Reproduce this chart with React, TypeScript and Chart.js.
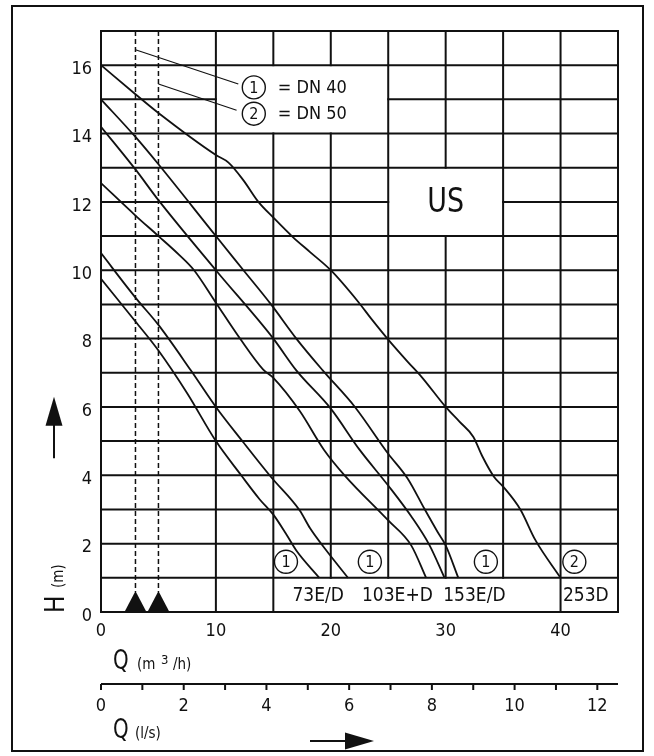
import React, { useEffect, useRef } from "react";
import { Chart, registerables } from "chart.js";

Chart.register(...registerables);

// ---------------- data ----------------
// Q in m3/h, H in m
const q253D = [0, 3, 5, 10, 11.1, 12.4, 13.7, 15, 16.7, 18.2, 20, 22.4, 23.5, 25, 26.7, 27.9, 30, 31.2, 32.4, 33.2, 34.2, 35, 36.5, 37.8, 40];
const h253D = [16, 15.15, 14.6, 13.37, 13.15, 12.63, 12.0, 11.54, 10.97, 10.53, 10, 9.07, 8.59, 7.97, 7.32, 6.88, 6.0, 5.57, 5.13, 4.55, 3.96, 3.67, 3.0, 2.11, 1.0];

const q153D = [0, 3, 5, 10, 12.4, 14.8, 17, 19.3, 22.1, 25, 26.7, 28.15, 29.3, 30, 31.1];
const h153D = [15, 13.9, 13.1, 11, 10, 9, 8, 7.07, 6.0, 4.63, 3.9, 3.02, 2.34, 1.95, 1.0];

const q153E = [0, 3, 5, 10, 15, 17, 20, 22.5, 25, 27, 28.6, 29.9];
const h153E = [14.2, 12.95, 12.05, 10, 8, 7.07, 5.95, 4.75, 3.7, 2.8, 1.95, 1.0];

const q103ED = [0, 3, 5, 6.8, 8.1, 10, 12.1, 14.1, 15, 17.3, 19.4, 21.2, 25, 27, 28.3];
const h103ED = [12.55, 11.6, 11.0, 10.45, 10.0, 9.05, 8.0, 7.1, 6.85, 5.88, 4.75, 4.0, 2.68, 1.95, 1.0];

const q73D = [0, 3, 5, 7.8, 10, 12.4, 14.8, 17.3, 18.2, 19.5, 21.5];
const h73D = [10.5, 9.2, 8.4, 7.08, 6.0, 4.96, 3.95, 2.97, 2.45, 1.85, 1.0];

const q73E = [0, 3, 5, 7.5, 10, 12.2, 13.8, 15, 16.1, 17, 19.0];
const h73E = [9.75, 8.5, 7.65, 6.4, 5.0, 4.0, 3.3, 2.85, 2.29, 1.8, 1.0];

const curveQ = [q253D, q153D, q153E, q103ED, q73D, q73E];
const curveH = [h253D, h153D, h153E, h103ED, h73D, h73E];

const hTicks = [0, 2, 4, 6, 8, 10, 12, 14, 16];
const qTicks = [0, 10, 20, 30, 40];
const lpsMinorTicks = [0, 1, 2, 3, 4, 5, 6, 7, 8, 9, 10, 11, 12];
const lpsLabels = [0, 2, 4, 6, 8, 10, 12];

const typeLabels = ["73E/D", "103E+D", "153E/D", "253D"];
const typeLabelQ = [18.9, 25.8, 32.5, 42.2];
const flangeMarks = ["1", "1", "1", "2"];
const flangeMarkQ = [16.1, 23.4, 33.5, 41.2];
const legendMarks = ["1", "2"];
const legendTexts = ["= DN 40", "= DN 50"];
const markerQ = [3, 5];

const FONT = '"DejaVu Sans Condensed", "Liberation Sans Narrow", "DejaVu Sans", sans-serif';
const INK = "#111111";

function txt(
  ctx: CanvasRenderingContext2D,
  s: string,
  x: number,
  y: number,
  size: number,
  align: CanvasTextAlign = "center",
  sx = 1,
  weight = "normal"
) {
  ctx.save();
  ctx.translate(x, y);
  ctx.scale(sx, 1);
  ctx.font = `${weight} ${size}px ${FONT}`;
  ctx.textAlign = align;
  ctx.textBaseline = "middle";
  ctx.fillStyle = INK;
  ctx.fillText(s, 0, 0);
  ctx.restore();
}

const drawingPlugin = {
  id: "pumpDrawing",
  beforeDraw(chart: any) {
    const ctx: CanvasRenderingContext2D = chart.ctx;
    ctx.save();
    ctx.fillStyle = "#ffffff";
    ctx.fillRect(0, 0, chart.width, chart.height);
    ctx.restore();
  },
  beforeDatasetsDraw(chart: any) {
    const ctx: CanvasRenderingContext2D = chart.ctx;
    const xs = chart.scales.x;
    const ys = chart.scales.y;
    const X = (v: number) => xs.getPixelForValue(v);
    const Y = (v: number) => ys.getPixelForValue(v);

    ctx.save();
    ctx.strokeStyle = INK;
    ctx.lineWidth = 2;
    ctx.lineCap = "butt";
    const seg = (x1: number, y1: number, x2: number, y2: number) => {
      ctx.beginPath();
      ctx.moveTo(x1, y1);
      ctx.lineTo(x2, y2);
      ctx.stroke();
    };
    const hSeg = (h: number, a: number, b: number) => seg(X(a) - 1, Y(h), X(b) + 1, Y(h));
    const vSeg = (q: number, a: number, b: number) => seg(X(q), Y(a) + 1, X(q), Y(b) - 1);

    // horizontal grid lines
    for (let h = 1; h <= 16; h++) {
      if (h === 15) {
        hSeg(h, 0, 10);
        hSeg(h, 25, 45);
      } else if (h === 12) {
        hSeg(h, 0, 25);
        hSeg(h, 35, 45);
      } else {
        hSeg(h, 0, 45);
      }
    }
    // vertical grid lines
    vSeg(10, 0, 17);
    vSeg(15, 0, 14);
    vSeg(15, 16, 17);
    vSeg(20, 1, 14);
    vSeg(20, 16, 17);
    vSeg(25, 1, 17);
    vSeg(30, 1, 11);
    vSeg(30, 13, 17);
    vSeg(35, 1, 17);
    vSeg(40, 0, 17);
    // frame of the diagram
    ctx.strokeRect(X(0), Y(17), X(45) - X(0), Y(0) - Y(17));

    // dashed marker lines with triangles
    ctx.lineWidth = 1.5;
    ctx.setLineDash([5, 3]);
    markerQ.forEach((q) => seg(X(q), Y(17), X(q), Y(0) - 20));
    ctx.setLineDash([]);
    ctx.fillStyle = INK;
    markerQ.forEach((q) => {
      ctx.beginPath();
      ctx.moveTo(X(q) - 11, Y(0));
      ctx.lineTo(X(q) + 11, Y(0));
      ctx.lineTo(X(q), Y(0) - 21);
      ctx.closePath();
      ctx.fill();
    });

    // leader lines for the legend
    ctx.lineWidth = 1.2;
    seg(X(3), Y(16.45), X(11.95), Y(15.45));
    seg(X(5), Y(15.45), X(11.8), Y(14.68));
    ctx.restore();
  },
  afterDatasetsDraw(chart: any) {
    const ctx: CanvasRenderingContext2D = chart.ctx;
    const xs = chart.scales.x;
    const ys = chart.scales.y;
    const X = (v: number) => xs.getPixelForValue(v);
    const Y = (v: number) => ys.getPixelForValue(v);

    const circ = (cx: number, cy: number, d: string) => {
      ctx.save();
      ctx.strokeStyle = INK;
      ctx.lineWidth = 1.4;
      ctx.beginPath();
      ctx.arc(cx, cy, 11.5, 0, Math.PI * 2);
      ctx.stroke();
      ctx.restore();
      txt(ctx, d, cx, cy + 1, 16);
    };

    // legend
    legendMarks.forEach((m, i) => {
      const cy = Y(15.35 - i * 0.77);
      circ(X(13.3), cy, m);
      txt(ctx, legendTexts[i], X(13.3) + 24, cy + 1, 18, "left");
    });

    // US label
    txt(ctx, "US", X(30), Y(12) + 1, 34, "center", 0.88);

    // flange marks and type labels
    flangeMarks.forEach((m, i) => circ(X(flangeMarkQ[i]), Y(1.47), m));
    typeLabels.forEach((s, i) => txt(ctx, s, X(typeLabelQ[i]), Y(0.5) + 1, 19, "center", 1.0));

    // H ticks
    hTicks.forEach((h) => txt(ctx, String(h), X(0) - 9, Y(h) + 4, 18, "right"));
    // Q ticks
    qTicks.forEach((q) => txt(ctx, String(q), X(q), Y(0) + 19, 18));

    // Q (m3/h) caption
    txt(ctx, "Q", X(0) + 12, Y(0) + 50, 26, "left", 0.85);
    txt(ctx, "(m", X(0) + 36, Y(0) + 53, 15, "left");
    txt(ctx, "3", X(0) + 60, Y(0) + 49, 13, "left");
    txt(ctx, "/h)", X(0) + 72, Y(0) + 53, 15, "left");

    // second axis in l/s
    const axY = Y(0) + 72;
    ctx.save();
    ctx.strokeStyle = INK;
    ctx.lineWidth = 2;
    ctx.beginPath();
    ctx.moveTo(X(0), axY);
    ctx.lineTo(X(45), axY);
    ctx.stroke();
    lpsMinorTicks.forEach((l) => {
      ctx.beginPath();
      ctx.moveTo(X(l * 3.6), axY);
      ctx.lineTo(X(l * 3.6), axY + 6);
      ctx.stroke();
    });
    ctx.restore();
    lpsLabels.forEach((l) => txt(ctx, String(l), X(l * 3.6), axY + 22, 18));
    txt(ctx, "Q", X(0) + 12, axY + 47, 26, "left", 0.85);
    txt(ctx, "(l/s)", X(0) + 34, axY + 50, 15, "left");

    // arrow to the right
    ctx.save();
    ctx.strokeStyle = INK;
    ctx.fillStyle = INK;
    ctx.lineWidth = 2;
    ctx.beginPath();
    ctx.moveTo(310, axY + 57);
    ctx.lineTo(348, axY + 57);
    ctx.stroke();
    ctx.beginPath();
    ctx.moveTo(345, axY + 48.5);
    ctx.lineTo(374, axY + 57);
    ctx.lineTo(345, axY + 65.5);
    ctx.closePath();
    ctx.fill();

    // arrow up, left of the H tick labels
    const ax = X(0) - 47;
    ctx.beginPath();
    ctx.moveTo(ax, Y(4.5));
    ctx.lineTo(ax, Y(5.5));
    ctx.stroke();
    ctx.beginPath();
    ctx.moveTo(ax - 8.5, Y(5.45));
    ctx.lineTo(ax, Y(6.3));
    ctx.lineTo(ax + 8.5, Y(5.45));
    ctx.closePath();
    ctx.fill();

    // H (m) caption, rotated
    ctx.translate(X(0) - 44, Y(0) + 1);
    ctx.rotate(-Math.PI / 2);
    ctx.font = `26px ${FONT}`;
    ctx.textAlign = "left";
    ctx.textBaseline = "middle";
    ctx.fillText("H", 0, 0);
    ctx.font = `15px ${FONT}`;
    ctx.fillText("(m)", 25, 2);
    ctx.restore();

    // outer frame
    ctx.save();
    ctx.strokeStyle = INK;
    ctx.lineWidth = 2;
    ctx.strokeRect(12, 6, 631, 745);
    ctx.restore();
  },
};

export default function App() {
  const ref = useRef<HTMLCanvasElement | null>(null);

  useEffect(() => {
    if (!ref.current) return;
    const datasets = curveQ.map((qs, i) => ({
      data: qs.map((q, j) => ({ x: q, y: curveH[i][j] })),
      showLine: true,
      borderColor: INK,
      borderWidth: 1.8,
      pointRadius: 0,
      cubicInterpolationMode: "monotone" as const,
      fill: false,
    }));
    const chart = new Chart(ref.current, {
      type: "scatter",
      data: { datasets },
      options: {
        responsive: false,
        animation: false,
        devicePixelRatio: 1,
        layout: { padding: { left: 101, right: 36, top: 31, bottom: 144 } },
        plugins: { legend: { display: false }, tooltip: { enabled: false } },
        events: [],
        scales: {
          x: { type: "linear", min: 0, max: 45, display: false },
          y: { type: "linear", min: 0, max: 17, display: false },
        },
      },
      plugins: [drawingPlugin],
    });
    return () => chart.destroy();
  }, []);

  return (
    <div style={{ position: "absolute", left: 0, top: 0, width: 654, height: 756, background: "#fff" }}>
      <canvas ref={ref} width={654} height={756} style={{ width: 654, height: 756, display: "block" }} />
    </div>
  );
}
